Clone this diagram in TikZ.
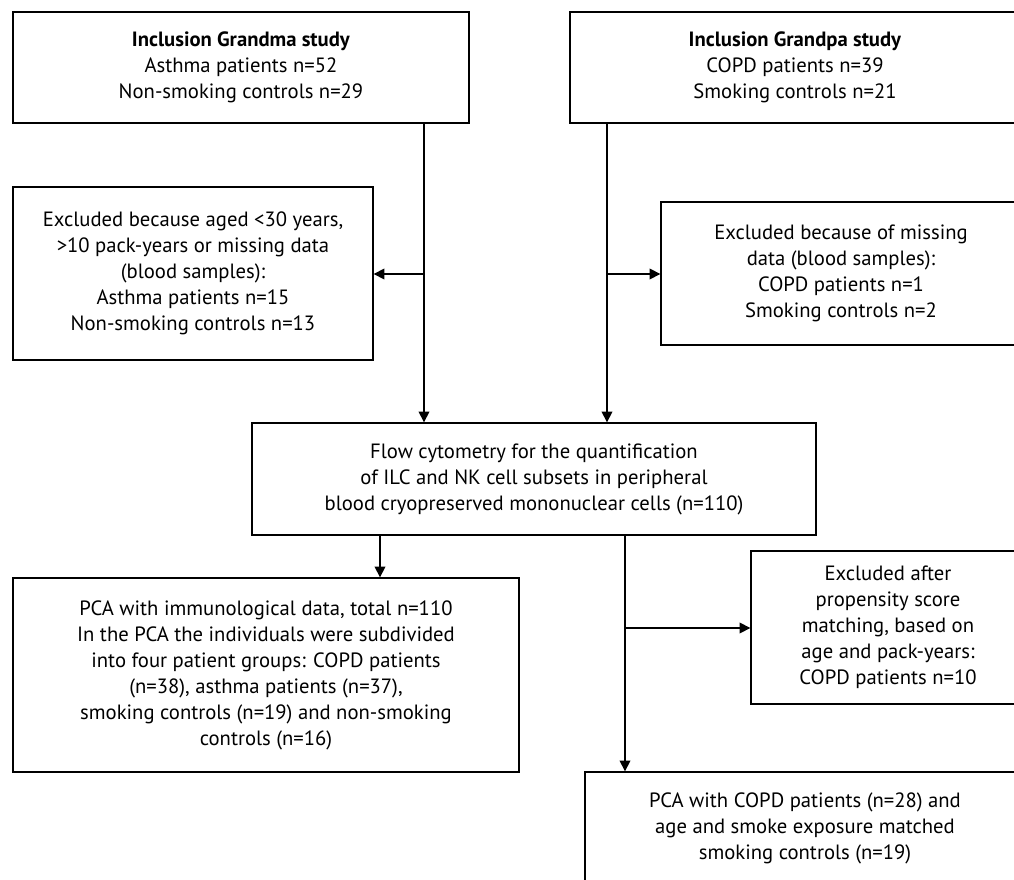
\documentclass[tikz,border=0pt]{standalone}
\usepackage{fontspec}
\setmainfont{PT Sans}
\usepackage{tikz}
\usetikzlibrary{positioning,arrows.meta}

\begin{document}
\begin{tikzpicture}[x=0.75pt,y=-0.75pt,text centered,align=center,font=\fontsize{15.5}{19.5}\selectfont]
            \tikzstyle{box}=[draw,line width=1pt,inner sep=0pt]
            \tikzstyle{arr}=[line width=1pt,-{Triangle[length=8pt,width=8pt]}]
            \clip (0,0) rectangle (1014,880);
            % inclusion
            \node[box,minimum width=342pt,minimum height=83.25pt] (grandma) at (241,67.5) {\textbf{Inclusion Grandma study}\\Asthma patients n=52\\Non-smoking controls n=29};
            \node[box,minimum width=337.5pt,minimum height=83.25pt] (grandpa) at (795,67.5) {\textbf{Inclusion Grandpa study}\\COPD patients n=39\\Smoking controls n=21};
            % exclusion
            \node[box,minimum width=270pt,minimum height=129.75pt] (exclL) at (193,273.5) {Excluded because aged <30 years,\\>10 pack-years or missing data\\(blood samples):\\Asthma patients n=15\\Non-smoking controls n=13};
            \node[box,minimum width=270pt,minimum height=107.25pt] (exclR) at (841,273.5) {Excluded because of missing\\data (blood samples):\\COPD patients n=1\\Smoking controls n=2};
            \node[box,minimum width=423pt,minimum height=84pt] (flow) at (534,479) {Flow cytometry for the quantification\\of ILC and NK cell subsets in peripheral\\blood cryopreserved mononuclear cells (n=110)};
            % analyses
            \node[box,minimum width=379.5pt,minimum height=145.5pt] (pcaL) at (266,675) {PCA with immunological data, total n=110\\In the PCA the individuals were subdivided\\into four patient groups: COPD patients\\(n=38), asthma patients (n=37),\\smoking controls (n=19) and non-smoking\\controls (n=16)};
            \node[box,minimum width=205.5pt,minimum height=114.75pt] (exclP) at (888,627.5) {Excluded after\\propensity score\\matching, based on\\age and pack-years:\\COPD patients n=10};
            \node[box,minimum width=330pt,minimum height=84pt] (pcaR) at (805,828) {PCA with COPD patients (n=28) and\\age and smoke exposure matched\\smoking controls (n=19)};

            \coordinate (j1) at (424,274);
            \coordinate (j2) at (607,274);
            \coordinate (j3) at (625,628);
            \coordinate (j4) at (380,556);

            \draw[arr] (grandma.south -| j1) -- (flow.north -| j1);
            \draw[arr] (j1) -- (exclL.east |- j1);
            \draw[arr] (grandpa.south -| j2) -- (flow.north -| j2);
            \draw[arr] (j2) -- (exclR.west |- j2);
            \draw[arr] (flow.south -| j4) -- (pcaL.north -| j4);
            \draw[arr] (flow.south -| j3) -- (pcaR.north -| j3);
            \draw[arr] (j3) -- (exclP.west |- j3);
        \end{tikzpicture}
\end{document}
